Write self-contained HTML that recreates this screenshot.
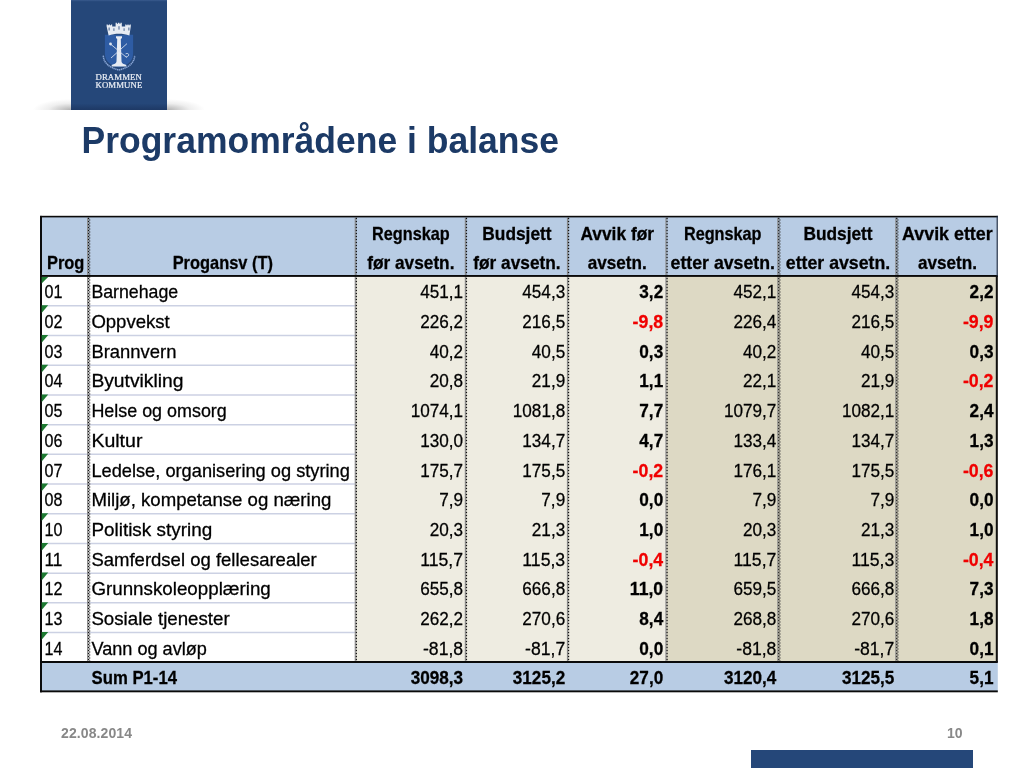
<!DOCTYPE html>
<html lang="no">
<head>
<meta charset="utf-8">
<title>Programområdene i balanse</title>
<style>
html,body{margin:0;padding:0;}
body{width:1024px;height:768px;position:relative;overflow:hidden;background:#fff;font-family:"Liberation Sans",Arial,sans-serif;}
.logo{position:absolute;left:71px;top:0;width:95.6px;height:109.6px;background:linear-gradient(to bottom,#3a5b8e 0,#254779 1.6%,#254779 94%,#203d6b 98%,#1e3965 100%);}
.sh{position:absolute;top:99px;height:10.8px;width:38px;}
.sh.l{left:33px;background:radial-gradient(ellipse 100% 100% at 100% 100%,rgba(40,40,40,.36) 0%,rgba(60,60,60,.25) 28%,rgba(90,90,90,.1) 60%,rgba(255,255,255,0) 100%);}
.sh.r{left:166.6px;background:radial-gradient(ellipse 100% 100% at 0% 100%,rgba(40,40,40,.36) 0%,rgba(60,60,60,.25) 28%,rgba(90,90,90,.1) 60%,rgba(255,255,255,0) 100%);}
.logo .t{position:absolute;left:0;width:100%;text-align:center;color:#e9edf4;font-family:"Liberation Serif","Times New Roman",serif;font-size:8.2px;line-height:8px;letter-spacing:.1px;white-space:nowrap;-webkit-text-stroke:.22px #e9edf4;}
.logo .t span{display:inline-block;transform:scaleX(1.07);}
.crest{position:absolute;left:27.6px;top:20.5px;width:40px;height:50px;}
h1{position:absolute;left:81.5px;top:120.7px;margin:0;font-size:35.5px;line-height:40px;font-weight:700;color:#1c3a66;white-space:nowrap;letter-spacing:0;transform:scaleY(1.06);transform-origin:0 32.6px;}
.tbl{position:absolute;left:0;top:0;}
.date{position:absolute;left:61px;top:726px;font-size:14px;letter-spacing:.1px;line-height:14px;font-weight:700;color:#888;}
.pg{position:absolute;left:947px;top:726px;font-size:14px;line-height:14px;font-weight:700;color:#888;}
.bar{position:absolute;left:751px;top:749.5px;width:222px;height:19px;background:#254779;}
</style>
</head>
<body>
<div class="sh l"></div><div class="sh r"></div>
<div class="logo">
<svg class="crest" viewBox="0 0 40 50">
 <path d="M5.900 13.800h28.200v19c0 8-6.500 12-14.100 13.700-7.600-1.700-14.100-5.700-14.100-13.700z" fill="#2e5ca4"/>
 <path d="M9.600 14.400L7.600 5.200V3.400h1.200v.9h1v-.9h1.200v.9h1v-.9h1.200v2.200h3.400V1.800h1.300v1h1.100v-1h1.400v1h1.100v-1h1.300v3.800h3.400V3.400h1.200v.9h1v-.9h1.200v.9h1v-.9h1.200v1.800L30.400 14.400C24 12.200 16 12.200 9.600 14.400z" fill="#e6ebf3"/>
 <g fill="#254779" opacity=".65"><rect x="9.500" y="6.500" width="1.300" height="3"/><rect x="14.300" y="7.300" width="1.200" height="2.600"/><rect x="19.350" y="5.200" width="1.300" height="3.400"/><rect x="24.500" y="7.300" width="1.200" height="2.600"/><rect x="29.200" y="6.500" width="1.300" height="3"/></g>
 <path d="M17 15.300h6v1.800l-1.200 1 .7 22.500c.2 2 2.200 2.600 4.800 3.400v1.500H12.700v-1.500c2.600-.8 4.600-1.400 4.800-3.400l.7-22.500-1.200-1z" fill="#e6ebf3"/>
 <path d="M11.700 23.200l16 13.400M28 22.600L12 37" stroke="#dbe3f0" stroke-width=".85" fill="none"/>
 <circle cx="11.500" cy="23" r="1.400" fill="#dbe3f0"/>
 <path d="M26.600 32.800c2.300-1.200 3.800.5 2.700 2.100-.7 1-1.900 1-2.500.3" stroke="#dbe3f0" stroke-width=".8" fill="none"/>
 <path d="M4.300 34.600c.3 7.500 6.500 12.300 15.700 14.300 9.200-2 15.400-6.800 15.700-14.300" stroke="#8aa6d6" stroke-width="1.500" fill="none" stroke-dasharray="1.400 .5"/>
</svg>
<div class="t" style="top:73.9px"><span>DRAMMEN</span></div>
<div class="t" style="top:81.6px"><span>KOMMUNE</span></div>
</div>
<h1>Programområdene i balanse</h1>
<svg class="tbl" width="1024" height="768" viewBox="0 0 1024 768">
<rect x="41.0" y="216.8" width="955.8" height="59.2" fill="#b8cce4"/>
<rect x="41.0" y="276.0" width="314.8" height="386.0" fill="#fff"/>
<rect x="355.8" y="276.0" width="110.1" height="386.0" fill="#eeece1"/>
<rect x="465.9" y="276.0" width="102.1" height="386.0" fill="#eeece1"/>
<rect x="568.0" y="276.0" width="98.5" height="386.0" fill="#eeece1"/>
<rect x="666.5" y="276.0" width="112.5" height="386.0" fill="#ddd9c4"/>
<rect x="779.0" y="276.0" width="118.0" height="386.0" fill="#ddd9c4"/>
<rect x="897.0" y="276.0" width="100.8" height="386.0" fill="#ddd9c4"/>
<rect x="41.0" y="662.0" width="956.8" height="29.3" fill="#b8cce4"/>
<line x1="42.0" y1="305.85" x2="354.8" y2="305.85" stroke="#ccd1e3" stroke-width="1.5"/>
<line x1="42.0" y1="335.55" x2="354.8" y2="335.55" stroke="#ccd1e3" stroke-width="1.5"/>
<line x1="42.0" y1="365.25" x2="354.8" y2="365.25" stroke="#ccd1e3" stroke-width="1.5"/>
<line x1="42.0" y1="394.95" x2="354.8" y2="394.95" stroke="#ccd1e3" stroke-width="1.5"/>
<line x1="42.0" y1="424.65" x2="354.8" y2="424.65" stroke="#ccd1e3" stroke-width="1.5"/>
<line x1="42.0" y1="454.35" x2="354.8" y2="454.35" stroke="#ccd1e3" stroke-width="1.5"/>
<line x1="42.0" y1="484.05" x2="354.8" y2="484.05" stroke="#ccd1e3" stroke-width="1.5"/>
<line x1="42.0" y1="513.75" x2="354.8" y2="513.75" stroke="#ccd1e3" stroke-width="1.5"/>
<line x1="42.0" y1="543.45" x2="354.8" y2="543.45" stroke="#ccd1e3" stroke-width="1.5"/>
<line x1="42.0" y1="573.15" x2="354.8" y2="573.15" stroke="#ccd1e3" stroke-width="1.5"/>
<line x1="42.0" y1="602.85" x2="354.8" y2="602.85" stroke="#ccd1e3" stroke-width="1.5"/>
<line x1="42.0" y1="632.55" x2="354.8" y2="632.55" stroke="#ccd1e3" stroke-width="1.5"/>
<line x1="87.60" y1="217.8" x2="87.60" y2="661.0" stroke="#8a8a8a" stroke-width="1.1"/>
<line x1="88.60" y1="217.8" x2="88.60" y2="661.0" stroke="#111" stroke-width="1.2" stroke-dasharray="1.5 1.5"/>
<line x1="89.70" y1="219.3" x2="89.70" y2="661.0" stroke="#4a4a4a" stroke-width="1.1" stroke-dasharray="1.5 1.5"/>
<line x1="355.25" y1="217.8" x2="355.25" y2="661.0" stroke="#8a8a8a" stroke-width="1.1"/>
<line x1="356.35" y1="217.8" x2="356.35" y2="661.0" stroke="#111" stroke-width="1.25" stroke-dasharray="1.5 1.5"/>
<line x1="465.35" y1="217.8" x2="465.35" y2="661.0" stroke="#8a8a8a" stroke-width="1.1"/>
<line x1="466.45" y1="217.8" x2="466.45" y2="661.0" stroke="#111" stroke-width="1.25" stroke-dasharray="1.5 1.5"/>
<line x1="567.45" y1="217.8" x2="567.45" y2="661.0" stroke="#8a8a8a" stroke-width="1.1"/>
<line x1="568.55" y1="217.8" x2="568.55" y2="661.0" stroke="#111" stroke-width="1.25" stroke-dasharray="1.5 1.5"/>
<line x1="665.95" y1="217.8" x2="665.95" y2="661.0" stroke="#8a8a8a" stroke-width="1.1"/>
<line x1="667.05" y1="217.8" x2="667.05" y2="661.0" stroke="#111" stroke-width="1.25" stroke-dasharray="1.5 1.5"/>
<line x1="777.80" y1="217.8" x2="777.80" y2="661.0" stroke="#8a8a8a" stroke-width="1.1"/>
<line x1="778.80" y1="217.8" x2="778.80" y2="661.0" stroke="#111" stroke-width="1.2" stroke-dasharray="1.5 1.5"/>
<line x1="779.90" y1="219.3" x2="779.90" y2="661.0" stroke="#4a4a4a" stroke-width="1.1" stroke-dasharray="1.5 1.5"/>
<line x1="895.80" y1="217.8" x2="895.80" y2="661.0" stroke="#8a8a8a" stroke-width="1.1"/>
<line x1="896.80" y1="217.8" x2="896.80" y2="661.0" stroke="#111" stroke-width="1.2" stroke-dasharray="1.5 1.5"/>
<line x1="897.90" y1="219.3" x2="897.90" y2="661.0" stroke="#4a4a4a" stroke-width="1.1" stroke-dasharray="1.5 1.5"/>
<rect x="40.0" y="215.9" width="2" height="476.4" fill="#0c0c0c"/>
<rect x="40.0" y="215.8" width="957.8" height="1.6" fill="#0a0a0a"/>
<rect x="40.0" y="275.0" width="957.8" height="1.9" fill="#0a0a0a"/>
<rect x="40.0" y="661.0" width="957.8" height="2.0" fill="#0a0a0a"/>
<rect x="40.0" y="690.4" width="957.8" height="1.9" fill="#0a0a0a"/>
<rect x="995.8" y="276.0" width="2" height="386.0" fill="#111"/>
<rect x="996.6" y="215.8" width="1.2" height="60.2" fill="#1c2c44"/>
<path d="M41.6 276.90h6.6l-6.6 6.6z" fill="#1d7a31"/>
<path d="M41.6 305.30h6.6l-6.6 7.8z" fill="#1d7a31"/>
<path d="M41.6 335.00h6.6l-6.6 7.8z" fill="#1d7a31"/>
<path d="M41.6 364.70h6.6l-6.6 7.8z" fill="#1d7a31"/>
<path d="M41.6 394.40h6.6l-6.6 7.8z" fill="#1d7a31"/>
<path d="M41.6 424.10h6.6l-6.6 7.8z" fill="#1d7a31"/>
<path d="M41.6 453.80h6.6l-6.6 7.8z" fill="#1d7a31"/>
<path d="M41.6 483.50h6.6l-6.6 7.8z" fill="#1d7a31"/>
<path d="M41.6 513.20h6.6l-6.6 7.8z" fill="#1d7a31"/>
<path d="M41.6 542.90h6.6l-6.6 7.8z" fill="#1d7a31"/>
<path d="M41.6 572.60h6.6l-6.6 7.8z" fill="#1d7a31"/>
<path d="M41.6 602.30h6.6l-6.6 7.8z" fill="#1d7a31"/>
<path d="M41.6 632.00h6.6l-6.6 7.8z" fill="#1d7a31"/>
<g font-family="Liberation Sans, Arial, sans-serif" font-size="18.2" fill="#000" stroke="#000" stroke-width=".28">
<text x="47.00" y="269.00" font-weight="700" textLength="37.4" lengthAdjust="spacingAndGlyphs">Prog</text>
<text x="222.80" y="269.00" text-anchor="middle" font-weight="700" textLength="100.3" lengthAdjust="spacingAndGlyphs">Progansv (T)</text>
<text x="410.85" y="239.90" text-anchor="middle" font-weight="700" textLength="77.6" lengthAdjust="spacingAndGlyphs">Regnskap</text>
<text x="410.85" y="269.00" text-anchor="middle" font-weight="700" textLength="87.2" lengthAdjust="spacingAndGlyphs">før avsetn.</text>
<text x="516.95" y="239.90" text-anchor="middle" font-weight="700" textLength="69.2" lengthAdjust="spacingAndGlyphs">Budsjett</text>
<text x="516.95" y="269.00" text-anchor="middle" font-weight="700" textLength="87.2" lengthAdjust="spacingAndGlyphs">før avsetn.</text>
<text x="617.25" y="239.90" text-anchor="middle" font-weight="700" textLength="73.6" lengthAdjust="spacingAndGlyphs">Avvik før</text>
<text x="617.25" y="269.00" text-anchor="middle" font-weight="700" textLength="59.0" lengthAdjust="spacingAndGlyphs">avsetn.</text>
<text x="722.75" y="239.90" text-anchor="middle" font-weight="700" textLength="77.6" lengthAdjust="spacingAndGlyphs">Regnskap</text>
<text x="722.75" y="269.00" text-anchor="middle" font-weight="700" textLength="104.4" lengthAdjust="spacingAndGlyphs">etter avsetn.</text>
<text x="838.00" y="239.90" text-anchor="middle" font-weight="700" textLength="69.2" lengthAdjust="spacingAndGlyphs">Budsjett</text>
<text x="838.00" y="269.00" text-anchor="middle" font-weight="700" textLength="104.4" lengthAdjust="spacingAndGlyphs">etter avsetn.</text>
<text x="947.40" y="239.90" text-anchor="middle" font-weight="700" textLength="90.6" lengthAdjust="spacingAndGlyphs">Avvik etter</text>
<text x="947.40" y="269.00" text-anchor="middle" font-weight="700" textLength="59.0" lengthAdjust="spacingAndGlyphs">avsetn.</text>
<text x="44.50" y="298.45" font-size="19.2" textLength="17.9" lengthAdjust="spacingAndGlyphs">01</text>
<text x="91.40" y="298.45" textLength="86.8" lengthAdjust="spacingAndGlyphs">Barnehage</text>
<text x="463.10" y="298.45" font-size="19.2" text-anchor="end" textLength="42.9" lengthAdjust="spacingAndGlyphs">451,1</text>
<text x="565.20" y="298.45" font-size="19.2" text-anchor="end" textLength="42.9" lengthAdjust="spacingAndGlyphs">454,3</text>
<text x="663.20" y="298.45" font-size="19.2" text-anchor="end" font-weight="700" textLength="23.9" lengthAdjust="spacingAndGlyphs">3,2</text>
<text x="776.40" y="298.45" font-size="19.2" text-anchor="end" textLength="42.9" lengthAdjust="spacingAndGlyphs">452,1</text>
<text x="894.30" y="298.45" font-size="19.2" text-anchor="end" textLength="42.9" lengthAdjust="spacingAndGlyphs">454,3</text>
<text x="993.50" y="298.45" font-size="19.2" text-anchor="end" font-weight="700" textLength="23.9" lengthAdjust="spacingAndGlyphs">2,2</text>
<text x="44.50" y="328.13" font-size="19.2" textLength="17.9" lengthAdjust="spacingAndGlyphs">02</text>
<text x="91.40" y="328.13" textLength="78.3" lengthAdjust="spacingAndGlyphs">Oppvekst</text>
<text x="463.10" y="328.13" font-size="19.2" text-anchor="end" textLength="42.9" lengthAdjust="spacingAndGlyphs">226,2</text>
<text x="565.20" y="328.13" font-size="19.2" text-anchor="end" textLength="42.9" lengthAdjust="spacingAndGlyphs">216,5</text>
<text x="663.20" y="328.13" font-size="19.2" text-anchor="end" font-weight="700" fill="#f00000" stroke="#f00000" textLength="30.6" lengthAdjust="spacingAndGlyphs">-9,8</text>
<text x="776.40" y="328.13" font-size="19.2" text-anchor="end" textLength="42.9" lengthAdjust="spacingAndGlyphs">226,4</text>
<text x="894.30" y="328.13" font-size="19.2" text-anchor="end" textLength="42.9" lengthAdjust="spacingAndGlyphs">216,5</text>
<text x="993.50" y="328.13" font-size="19.2" text-anchor="end" font-weight="700" fill="#f00000" stroke="#f00000" textLength="30.6" lengthAdjust="spacingAndGlyphs">-9,9</text>
<text x="44.50" y="357.81" font-size="19.2" textLength="17.9" lengthAdjust="spacingAndGlyphs">03</text>
<text x="91.40" y="357.81" textLength="85.0" lengthAdjust="spacingAndGlyphs">Brannvern</text>
<text x="463.10" y="357.81" font-size="19.2" text-anchor="end" textLength="33.4" lengthAdjust="spacingAndGlyphs">40,2</text>
<text x="565.20" y="357.81" font-size="19.2" text-anchor="end" textLength="33.4" lengthAdjust="spacingAndGlyphs">40,5</text>
<text x="663.20" y="357.81" font-size="19.2" text-anchor="end" font-weight="700" textLength="23.9" lengthAdjust="spacingAndGlyphs">0,3</text>
<text x="776.40" y="357.81" font-size="19.2" text-anchor="end" textLength="33.4" lengthAdjust="spacingAndGlyphs">40,2</text>
<text x="894.30" y="357.81" font-size="19.2" text-anchor="end" textLength="33.4" lengthAdjust="spacingAndGlyphs">40,5</text>
<text x="993.50" y="357.81" font-size="19.2" text-anchor="end" font-weight="700" textLength="23.9" lengthAdjust="spacingAndGlyphs">0,3</text>
<text x="44.50" y="387.49" font-size="19.2" textLength="17.9" lengthAdjust="spacingAndGlyphs">04</text>
<text x="91.40" y="387.49" textLength="92.0" lengthAdjust="spacingAndGlyphs">Byutvikling</text>
<text x="463.10" y="387.49" font-size="19.2" text-anchor="end" textLength="33.4" lengthAdjust="spacingAndGlyphs">20,8</text>
<text x="565.20" y="387.49" font-size="19.2" text-anchor="end" textLength="33.4" lengthAdjust="spacingAndGlyphs">21,9</text>
<text x="663.20" y="387.49" font-size="19.2" text-anchor="end" font-weight="700" textLength="23.9" lengthAdjust="spacingAndGlyphs">1,1</text>
<text x="776.40" y="387.49" font-size="19.2" text-anchor="end" textLength="33.4" lengthAdjust="spacingAndGlyphs">22,1</text>
<text x="894.30" y="387.49" font-size="19.2" text-anchor="end" textLength="33.4" lengthAdjust="spacingAndGlyphs">21,9</text>
<text x="993.50" y="387.49" font-size="19.2" text-anchor="end" font-weight="700" fill="#f00000" stroke="#f00000" textLength="30.6" lengthAdjust="spacingAndGlyphs">-0,2</text>
<text x="44.50" y="417.17" font-size="19.2" textLength="17.9" lengthAdjust="spacingAndGlyphs">05</text>
<text x="91.40" y="417.17" textLength="135.4" lengthAdjust="spacingAndGlyphs">Helse og omsorg</text>
<text x="463.10" y="417.17" font-size="19.2" text-anchor="end" textLength="52.4" lengthAdjust="spacingAndGlyphs">1074,1</text>
<text x="565.20" y="417.17" font-size="19.2" text-anchor="end" textLength="52.4" lengthAdjust="spacingAndGlyphs">1081,8</text>
<text x="663.20" y="417.17" font-size="19.2" text-anchor="end" font-weight="700" textLength="23.9" lengthAdjust="spacingAndGlyphs">7,7</text>
<text x="776.40" y="417.17" font-size="19.2" text-anchor="end" textLength="52.4" lengthAdjust="spacingAndGlyphs">1079,7</text>
<text x="894.30" y="417.17" font-size="19.2" text-anchor="end" textLength="52.4" lengthAdjust="spacingAndGlyphs">1082,1</text>
<text x="993.50" y="417.17" font-size="19.2" text-anchor="end" font-weight="700" textLength="23.9" lengthAdjust="spacingAndGlyphs">2,4</text>
<text x="44.50" y="446.85" font-size="19.2" textLength="17.9" lengthAdjust="spacingAndGlyphs">06</text>
<text x="91.40" y="446.85" textLength="51.0" lengthAdjust="spacingAndGlyphs">Kultur</text>
<text x="463.10" y="446.85" font-size="19.2" text-anchor="end" textLength="42.9" lengthAdjust="spacingAndGlyphs">130,0</text>
<text x="565.20" y="446.85" font-size="19.2" text-anchor="end" textLength="42.9" lengthAdjust="spacingAndGlyphs">134,7</text>
<text x="663.20" y="446.85" font-size="19.2" text-anchor="end" font-weight="700" textLength="23.9" lengthAdjust="spacingAndGlyphs">4,7</text>
<text x="776.40" y="446.85" font-size="19.2" text-anchor="end" textLength="42.9" lengthAdjust="spacingAndGlyphs">133,4</text>
<text x="894.30" y="446.85" font-size="19.2" text-anchor="end" textLength="42.9" lengthAdjust="spacingAndGlyphs">134,7</text>
<text x="993.50" y="446.85" font-size="19.2" text-anchor="end" font-weight="700" textLength="23.9" lengthAdjust="spacingAndGlyphs">1,3</text>
<text x="44.50" y="476.53" font-size="19.2" textLength="17.9" lengthAdjust="spacingAndGlyphs">07</text>
<text x="91.40" y="476.53" textLength="258.5" lengthAdjust="spacingAndGlyphs">Ledelse, organisering og styring</text>
<text x="463.10" y="476.53" font-size="19.2" text-anchor="end" textLength="42.9" lengthAdjust="spacingAndGlyphs">175,7</text>
<text x="565.20" y="476.53" font-size="19.2" text-anchor="end" textLength="42.9" lengthAdjust="spacingAndGlyphs">175,5</text>
<text x="663.20" y="476.53" font-size="19.2" text-anchor="end" font-weight="700" fill="#f00000" stroke="#f00000" textLength="30.6" lengthAdjust="spacingAndGlyphs">-0,2</text>
<text x="776.40" y="476.53" font-size="19.2" text-anchor="end" textLength="42.9" lengthAdjust="spacingAndGlyphs">176,1</text>
<text x="894.30" y="476.53" font-size="19.2" text-anchor="end" textLength="42.9" lengthAdjust="spacingAndGlyphs">175,5</text>
<text x="993.50" y="476.53" font-size="19.2" text-anchor="end" font-weight="700" fill="#f00000" stroke="#f00000" textLength="30.6" lengthAdjust="spacingAndGlyphs">-0,6</text>
<text x="44.50" y="506.21" font-size="19.2" textLength="17.9" lengthAdjust="spacingAndGlyphs">08</text>
<text x="91.40" y="506.21" textLength="240.0" lengthAdjust="spacingAndGlyphs">Miljø, kompetanse og næring</text>
<text x="463.10" y="506.21" font-size="19.2" text-anchor="end" textLength="23.9" lengthAdjust="spacingAndGlyphs">7,9</text>
<text x="565.20" y="506.21" font-size="19.2" text-anchor="end" textLength="23.9" lengthAdjust="spacingAndGlyphs">7,9</text>
<text x="663.20" y="506.21" font-size="19.2" text-anchor="end" font-weight="700" textLength="23.9" lengthAdjust="spacingAndGlyphs">0,0</text>
<text x="776.40" y="506.21" font-size="19.2" text-anchor="end" textLength="23.9" lengthAdjust="spacingAndGlyphs">7,9</text>
<text x="894.30" y="506.21" font-size="19.2" text-anchor="end" textLength="23.9" lengthAdjust="spacingAndGlyphs">7,9</text>
<text x="993.50" y="506.21" font-size="19.2" text-anchor="end" font-weight="700" textLength="23.9" lengthAdjust="spacingAndGlyphs">0,0</text>
<text x="44.50" y="535.89" font-size="19.2" textLength="17.9" lengthAdjust="spacingAndGlyphs">10</text>
<text x="91.40" y="535.89" textLength="120.8" lengthAdjust="spacingAndGlyphs">Politisk styring</text>
<text x="463.10" y="535.89" font-size="19.2" text-anchor="end" textLength="33.4" lengthAdjust="spacingAndGlyphs">20,3</text>
<text x="565.20" y="535.89" font-size="19.2" text-anchor="end" textLength="33.4" lengthAdjust="spacingAndGlyphs">21,3</text>
<text x="663.20" y="535.89" font-size="19.2" text-anchor="end" font-weight="700" textLength="23.9" lengthAdjust="spacingAndGlyphs">1,0</text>
<text x="776.40" y="535.89" font-size="19.2" text-anchor="end" textLength="33.4" lengthAdjust="spacingAndGlyphs">20,3</text>
<text x="894.30" y="535.89" font-size="19.2" text-anchor="end" textLength="33.4" lengthAdjust="spacingAndGlyphs">21,3</text>
<text x="993.50" y="535.89" font-size="19.2" text-anchor="end" font-weight="700" textLength="23.9" lengthAdjust="spacingAndGlyphs">1,0</text>
<text x="44.50" y="565.57" font-size="19.2" textLength="17.9" lengthAdjust="spacingAndGlyphs">11</text>
<text x="91.40" y="565.57" textLength="225.4" lengthAdjust="spacingAndGlyphs">Samferdsel og fellesarealer</text>
<text x="463.10" y="565.57" font-size="19.2" text-anchor="end" textLength="42.9" lengthAdjust="spacingAndGlyphs">115,7</text>
<text x="565.20" y="565.57" font-size="19.2" text-anchor="end" textLength="42.9" lengthAdjust="spacingAndGlyphs">115,3</text>
<text x="663.20" y="565.57" font-size="19.2" text-anchor="end" font-weight="700" fill="#f00000" stroke="#f00000" textLength="30.6" lengthAdjust="spacingAndGlyphs">-0,4</text>
<text x="776.40" y="565.57" font-size="19.2" text-anchor="end" textLength="42.9" lengthAdjust="spacingAndGlyphs">115,7</text>
<text x="894.30" y="565.57" font-size="19.2" text-anchor="end" textLength="42.9" lengthAdjust="spacingAndGlyphs">115,3</text>
<text x="993.50" y="565.57" font-size="19.2" text-anchor="end" font-weight="700" fill="#f00000" stroke="#f00000" textLength="30.6" lengthAdjust="spacingAndGlyphs">-0,4</text>
<text x="44.50" y="595.25" font-size="19.2" textLength="17.9" lengthAdjust="spacingAndGlyphs">12</text>
<text x="91.40" y="595.25" textLength="179.4" lengthAdjust="spacingAndGlyphs">Grunnskoleopplæring</text>
<text x="463.10" y="595.25" font-size="19.2" text-anchor="end" textLength="42.9" lengthAdjust="spacingAndGlyphs">655,8</text>
<text x="565.20" y="595.25" font-size="19.2" text-anchor="end" textLength="42.9" lengthAdjust="spacingAndGlyphs">666,8</text>
<text x="663.20" y="595.25" font-size="19.2" text-anchor="end" font-weight="700" textLength="33.4" lengthAdjust="spacingAndGlyphs">11,0</text>
<text x="776.40" y="595.25" font-size="19.2" text-anchor="end" textLength="42.9" lengthAdjust="spacingAndGlyphs">659,5</text>
<text x="894.30" y="595.25" font-size="19.2" text-anchor="end" textLength="42.9" lengthAdjust="spacingAndGlyphs">666,8</text>
<text x="993.50" y="595.25" font-size="19.2" text-anchor="end" font-weight="700" textLength="23.9" lengthAdjust="spacingAndGlyphs">7,3</text>
<text x="44.50" y="624.93" font-size="19.2" textLength="17.9" lengthAdjust="spacingAndGlyphs">13</text>
<text x="91.40" y="624.93" textLength="138.3" lengthAdjust="spacingAndGlyphs">Sosiale tjenester</text>
<text x="463.10" y="624.93" font-size="19.2" text-anchor="end" textLength="42.9" lengthAdjust="spacingAndGlyphs">262,2</text>
<text x="565.20" y="624.93" font-size="19.2" text-anchor="end" textLength="42.9" lengthAdjust="spacingAndGlyphs">270,6</text>
<text x="663.20" y="624.93" font-size="19.2" text-anchor="end" font-weight="700" textLength="23.9" lengthAdjust="spacingAndGlyphs">8,4</text>
<text x="776.40" y="624.93" font-size="19.2" text-anchor="end" textLength="42.9" lengthAdjust="spacingAndGlyphs">268,8</text>
<text x="894.30" y="624.93" font-size="19.2" text-anchor="end" textLength="42.9" lengthAdjust="spacingAndGlyphs">270,6</text>
<text x="993.50" y="624.93" font-size="19.2" text-anchor="end" font-weight="700" textLength="23.9" lengthAdjust="spacingAndGlyphs">1,8</text>
<text x="44.50" y="654.61" font-size="19.2" textLength="17.9" lengthAdjust="spacingAndGlyphs">14</text>
<text x="91.40" y="654.61" textLength="115.5" lengthAdjust="spacingAndGlyphs">Vann og avløp</text>
<text x="463.10" y="654.61" font-size="19.2" text-anchor="end" textLength="40.1" lengthAdjust="spacingAndGlyphs">-81,8</text>
<text x="565.20" y="654.61" font-size="19.2" text-anchor="end" textLength="40.1" lengthAdjust="spacingAndGlyphs">-81,7</text>
<text x="663.20" y="654.61" font-size="19.2" text-anchor="end" font-weight="700" textLength="23.9" lengthAdjust="spacingAndGlyphs">0,0</text>
<text x="776.40" y="654.61" font-size="19.2" text-anchor="end" textLength="40.1" lengthAdjust="spacingAndGlyphs">-81,8</text>
<text x="894.30" y="654.61" font-size="19.2" text-anchor="end" textLength="40.1" lengthAdjust="spacingAndGlyphs">-81,7</text>
<text x="993.50" y="654.61" font-size="19.2" text-anchor="end" font-weight="700" textLength="23.9" lengthAdjust="spacingAndGlyphs">0,1</text>
<text x="91.60" y="684.40" font-weight="700" textLength="85.4" lengthAdjust="spacingAndGlyphs">Sum P1-14</text>
<text x="463.10" y="684.40" font-size="19.2" text-anchor="end" font-weight="700" textLength="52.4" lengthAdjust="spacingAndGlyphs">3098,3</text>
<text x="565.20" y="684.40" font-size="19.2" text-anchor="end" font-weight="700" textLength="52.4" lengthAdjust="spacingAndGlyphs">3125,2</text>
<text x="663.20" y="684.40" font-size="19.2" text-anchor="end" font-weight="700" textLength="33.4" lengthAdjust="spacingAndGlyphs">27,0</text>
<text x="776.40" y="684.40" font-size="19.2" text-anchor="end" font-weight="700" textLength="52.4" lengthAdjust="spacingAndGlyphs">3120,4</text>
<text x="894.30" y="684.40" font-size="19.2" text-anchor="end" font-weight="700" textLength="52.4" lengthAdjust="spacingAndGlyphs">3125,5</text>
<text x="993.50" y="684.40" font-size="19.2" text-anchor="end" font-weight="700" textLength="23.9" lengthAdjust="spacingAndGlyphs">5,1</text>
</g></svg>
<div class="date">22.08.2014</div>
<div class="pg">10</div>
<div class="bar"></div>
</body>
</html>
